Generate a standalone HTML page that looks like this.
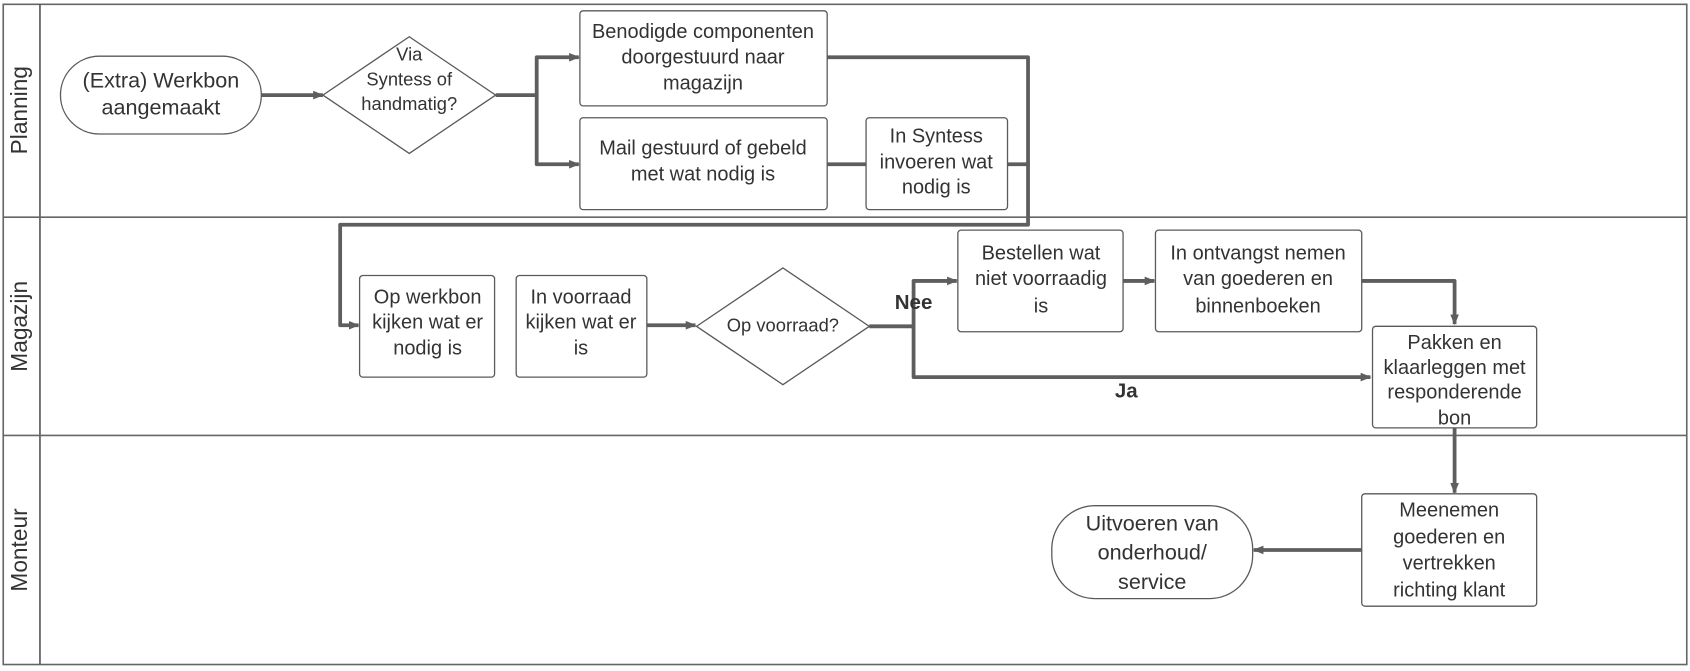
<!DOCTYPE html>
<html><head><meta charset="utf-8"><style>
html,body{margin:0;padding:0;background:#fff;width:1690px;height:671px;overflow:hidden}
svg{display:block}
text{font-family:"Liberation Sans",Arial,sans-serif;fill:#333;font-size:18.5px;text-anchor:middle}
.b{fill:#fff;stroke:#5a5a5a;stroke-width:1.2}
.c{fill:none;stroke:#5e5e5e;stroke-width:3.5;stroke-linejoin:round}
</style></head><body>
<svg width="1690" height="671" viewBox="0 0 1565 621" preserveAspectRatio="none">
<defs><marker id="a" markerWidth="10" markerHeight="8" refX="9" refY="4" orient="auto" markerUnits="userSpaceOnUse"><path d="M0,0 L10,4 L0,8 z" fill="#5e5e5e"/></marker></defs>
<rect x="3" y="4" width="1559" height="611" fill="#fff" stroke="#666" stroke-width="1.5"/>
<line x1="37" y1="4" x2="37" y2="615" stroke="#555" stroke-width="1.5"/>
<line x1="3" y1="201" x2="1562" y2="201" stroke="#666" stroke-width="1.5"/>
<line x1="3" y1="403" x2="1562" y2="403" stroke="#666" stroke-width="1.5"/>
<text transform="translate(25,102) rotate(-90)" style="font-size:21px">Planning</text>
<text transform="translate(25,302) rotate(-90)" style="font-size:21px">Magazijn</text>
<text transform="translate(25,509) rotate(-90)" style="font-size:21px">Monteur</text>

<!-- connectors -->
<path class="c" d="M242,88 H299" marker-end="url(#a)"/>
<path class="c" d="M459,88 H497 V53 H536" marker-end="url(#a)"/>
<path class="c" d="M497,88 V152 H536" marker-end="url(#a)"/>
<path class="c" d="M766,152 H802"/>
<path class="c" d="M933,152 H952"/>
<path class="c" d="M766,53 H952 V208 H315 V301 H332" marker-end="url(#a)"/>
<path class="c" d="M599,301 H644" marker-end="url(#a)"/>
<path class="c" d="M805,302 H846 V260 H886" marker-end="url(#a)"/>
<path class="c" d="M846,302 V349 H1269" marker-end="url(#a)"/>
<path class="c" d="M1040,260 H1069" marker-end="url(#a)"/>
<path class="c" d="M1261,260 H1347 V300" marker-end="url(#a)"/>
<path class="c" d="M1347,396 V456" marker-end="url(#a)"/>
<path class="c" d="M1261,509 H1161" marker-end="url(#a)"/>

<!-- shapes -->
<rect class="b" x="56" y="52" width="186" height="72" rx="36"/>
<text x="149" y="81" style="font-size:20px">(Extra) Werkbon</text>
<text x="149" y="106" style="font-size:20px">aangemaakt</text>

<path class="b" d="M379,34 L459,88 L379,142 L299,88 z"/>
<text x="379" y="56" style="font-size:17px">Via</text>
<text x="379" y="79" style="font-size:17px">Syntess of</text>
<text x="379" y="102" style="font-size:17px">handmatig?</text>

<rect class="b" x="537" y="10" width="229" height="88" rx="3"/>
<text x="651" y="35">Benodigde componenten</text>
<text x="651" y="59">doorgestuurd naar</text>
<text x="651" y="83">magazijn</text>

<rect class="b" x="537" y="109" width="229" height="85" rx="3"/>
<text x="651" y="143">Mail gestuurd of gebeld</text>
<text x="651" y="167">met wat nodig is</text>

<rect class="b" x="802" y="109" width="131" height="85" rx="3"/>
<text x="867" y="132">In Syntess</text>
<text x="867" y="156">invoeren wat</text>
<text x="867" y="179">nodig is</text>

<rect class="b" x="333" y="255" width="125" height="94" rx="3"/>
<text x="396" y="281">Op werkbon</text>
<text x="396" y="304">kijken wat er</text>
<text x="396" y="328">nodig is</text>

<rect class="b" x="478" y="255" width="121" height="94" rx="3"/>
<text x="538" y="281">In voorraad</text>
<text x="538" y="304">kijken wat er</text>
<text x="538" y="328">is</text>

<path class="b" d="M725,248 L805,302 L725,356 L645,302 z"/>
<text x="725" y="307" style="font-size:17px">Op voorraad?</text>
<text x="846" y="286" style="font-weight:bold;font-size:19px">Nee</text>
<text x="1043" y="368" style="font-weight:bold;font-size:19px">Ja</text>

<rect class="b" x="887" y="213" width="153" height="94" rx="3"/>
<text x="964" y="240">Bestellen wat</text>
<text x="964" y="264">niet voorraadig</text>
<text x="964" y="289">is</text>

<rect class="b" x="1070" y="213" width="191" height="94" rx="3"/>
<text x="1165" y="240">In ontvangst nemen</text>
<text x="1165" y="264">van goederen en</text>
<text x="1165" y="289">binnenboeken</text>

<rect class="b" x="1271" y="302" width="152" height="94" rx="3"/>
<text x="1347" y="323">Pakken en</text>
<text x="1347" y="346">klaarleggen met</text>
<text x="1347" y="369">responderende</text>
<text x="1347" y="393">bon</text>

<rect class="b" x="1261" y="457" width="162" height="104" rx="3"/>
<text x="1342" y="478">Meenemen</text>
<text x="1342" y="503">goederen en</text>
<text x="1342" y="527">vertrekken</text>
<text x="1342" y="552">richting klant</text>

<rect class="b" x="974" y="468" width="186" height="86" rx="40"/>
<text x="1067" y="491" style="font-size:20px">Uitvoeren van</text>
<text x="1067" y="518" style="font-size:20px">onderhoud/</text>
<text x="1067" y="545" style="font-size:20px">service</text>
</svg>
</body></html>
